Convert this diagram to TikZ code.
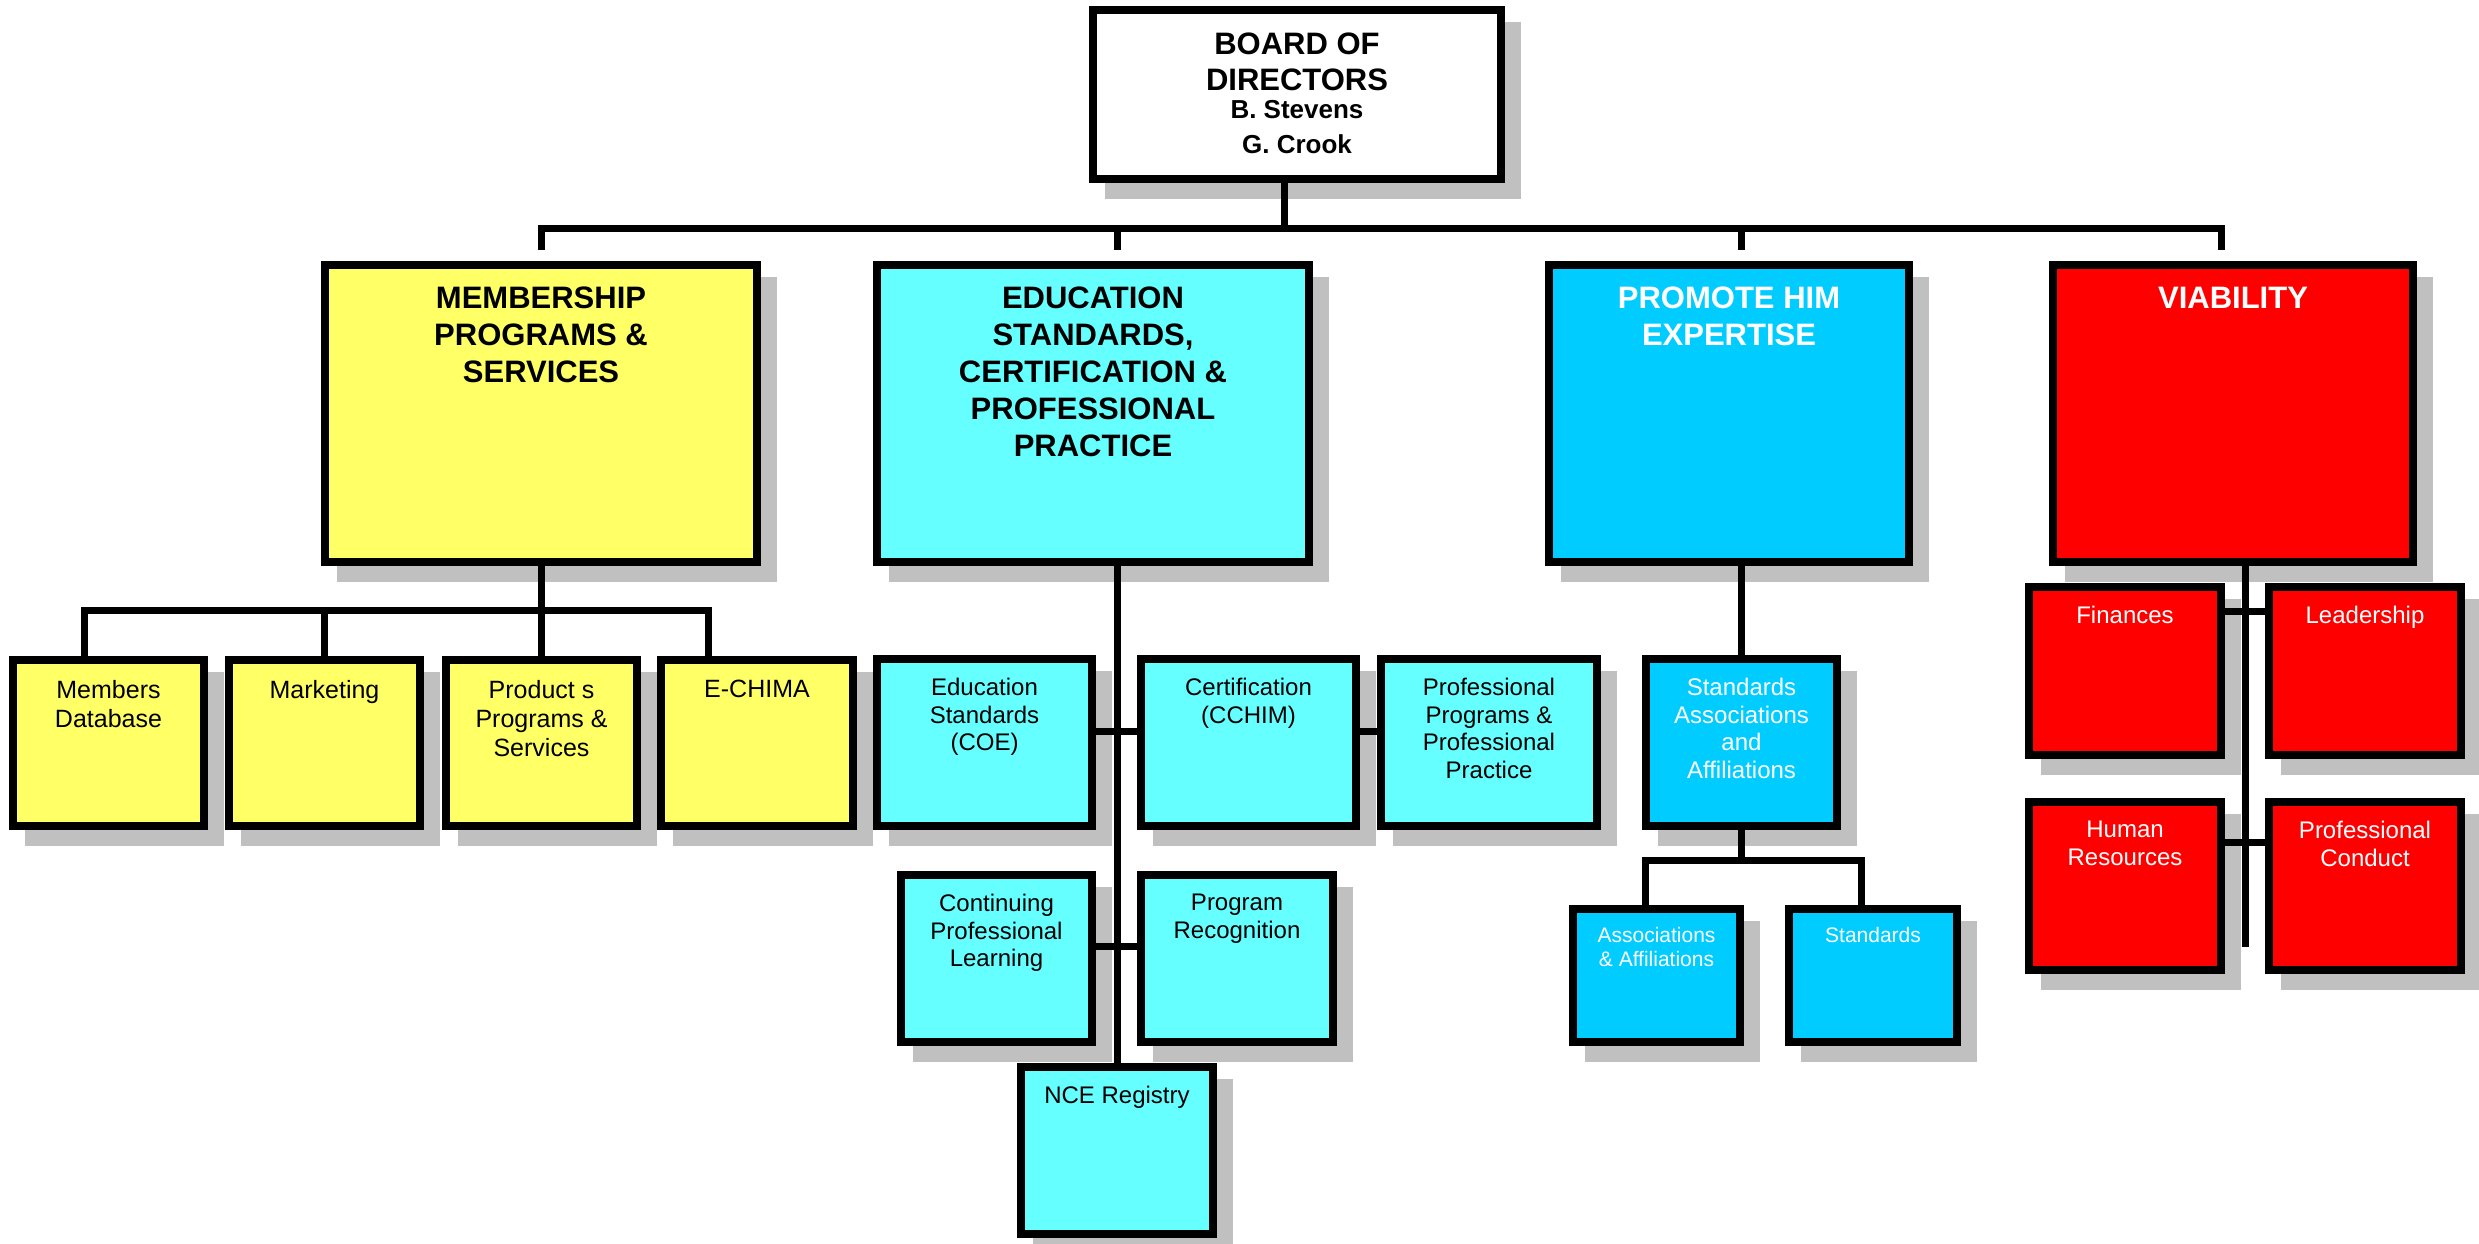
\documentclass[tikz,border=0pt]{standalone}
\usepackage{fontspec}
\setmainfont{Liberation Sans}

\definecolor{ylw}{HTML}{FFFF66}
\definecolor{cyn}{HTML}{66FFFF}
\definecolor{sky}{HTML}{00CCFF}
\definecolor{rd}{HTML}{FF0000}
\definecolor{shadowc}{HTML}{C0C0C0}

\pgfdeclarelayer{shadows}
\pgfdeclarelayer{links}
\pgfsetlayers{shadows,links,main}

% #1 box style, #2 text style, #3 name, #4 x1, #5 y1, #6 x2, #7 y2 (outer edges), #8 text
\newcommand\orgbox[8]{%
  \node[#1, minimum width={#6-#4-8}, minimum height={#7-#5-8}] (#3) at ({(#4+#6)/2},{(#5+#7)/2}) {};
  \node[#2, anchor=north] (#3-t) at ({(#4+#6)/2},{#5}) {#8};
}

\tikzset{
  box/.style={draw=black, line width=8pt, rectangle, inner sep=0pt},
  wbox/.style={box, fill=white},
  ybox/.style={box, fill=ylw},
  cbox/.style={box, fill=cyn},
  bbox/.style={box, fill=sky},
  rbox/.style={box, fill=rd},
  boardtext/.style={inner sep=0pt, align=center, font=\bfseries\fontsize{31}{36}\selectfont, yshift=-27pt},
  boardnames/.style={inner sep=0pt, align=center, font=\bfseries\fontsize{26}{35}\selectfont},
  hdtext/.style={inner sep=0pt, align=center, font=\bfseries\fontsize{31}{37}\selectfont, yshift=-26pt},
  hdwhite/.style={hdtext, text=white},
  yeltext/.style={inner sep=0pt, align=center, font=\fontsize{25}{29}\selectfont, yshift=-24pt},
  subtext/.style={inner sep=0pt, align=center, font=\fontsize{24}{27.5}\selectfont, yshift=-23pt},
  subwhite/.style={subtext, text=white},
  smallwhite/.style={inner sep=0pt, align=center, font=\fontsize{21}{24}\selectfont, text=white, yshift=-22pt},
  conn/.style={draw=black, line width=7pt},
}

\begin{document}
\begin{tikzpicture}[x=1pt, y=-1pt]
\useasboundingbox (0,0) rectangle (2479,1244);

% ---- board ----
\orgbox{wbox}{boardtext}{board}{1089}{6}{1505}{183}{BOARD OF\\DIRECTORS}
\node[boardnames, anchor=north] (board-n) at (1297,100) {B. Stevens\\G. Crook};

% ---- portfolios ----
\orgbox{ybox}{hdtext}{mem}{321}{261}{761}{566}{MEMBERSHIP\\PROGRAMS \&\\SERVICES}
\orgbox{cbox}{hdtext}{edu}{873}{261}{1313}{566}{EDUCATION\\STANDARDS,\\CERTIFICATION \&\\PROFESSIONAL\\PRACTICE}
\orgbox{bbox}{hdwhite}{pro}{1545}{261}{1913}{566}{PROMOTE HIM\\EXPERTISE}
\orgbox{rbox}{hdwhite}{via}{2049}{261}{2417}{566}{VIABILITY}

% ---- membership units ----
\orgbox{ybox}{yeltext}{md}{9}{656}{208}{830}{Members\\Database}
\orgbox{ybox}{yeltext}{mk}{225}{656}{424}{830}{Marketing}
\orgbox{ybox}{yeltext}{ps}{442}{656}{641}{830}{Product s\\Programs \&\\Services}
\orgbox{ybox}{yeltext}{ec}{657}{656}{857}{830}{E-CHIMA}

% ---- education units ----
\orgbox{cbox}{subtext}{es}{873}{655}{1096}{830}{Education\\Standards\\(COE)}
\orgbox{cbox}{subtext}{ce}{1137}{655}{1360}{830}{Certification\\(CCHIM)}
\orgbox{cbox}{subtext}{pp}{1377}{655}{1601}{830}{Professional\\Programs \&\\Professional\\Practice}
\orgbox{cbox}{subtext}{cp}{897}{871}{1096}{1046}{Continuing\\Professional\\Learning}
\orgbox{cbox}{subtext}{pr}{1137}{871}{1337}{1046}{Program\\Recognition}
\orgbox{cbox}{subtext}{nce}{1017}{1063}{1217}{1238}{NCE Registry}

% ---- expertise units ----
\orgbox{bbox}{subwhite}{sa}{1642}{655}{1841}{830}{Standards\\Associations\\and\\Affiliations}
\orgbox{bbox}{smallwhite}{aa}{1569}{905}{1744}{1046}{Associations\\\& Affiliations}
\orgbox{bbox}{smallwhite}{st}{1785}{905}{1961}{1046}{Standards}

% ---- viability units ----
\orgbox{rbox}{subwhite}{fin}{2025}{583}{2225}{759}{Finances}
\orgbox{rbox}{subwhite}{lead}{2265}{583}{2465}{759}{Leadership}
\orgbox{rbox}{subwhite}{hr}{2025}{798}{2225}{974}{Human\\Resources}
\orgbox{rbox}{subwhite}{pc}{2265}{798}{2465}{974}{Professional\\Conduct}

% ---- drop shadows ----
\begin{pgfonlayer}{shadows}
  \foreach \n in {board,mem,edu,pro,via,md,mk,ps,ec,es,ce,pp,cp,pr,nce,sa,aa,st,fin,lead,hr,pc}
    \fill[shadowc] ([shift={(16,16)}]\n.north west) rectangle ([shift={(16,16)}]\n.south east);
\end{pgfonlayer}

% ---- connectors ----
\coordinate (tbB) at (1284,228);
\coordinate (tbL) at (541,228);
\coordinate (tbE) at (1117,228);
\coordinate (tbP) at (1741,228);
\coordinate (tbR) at (2221,228);
\coordinate (mbL) at (84,610);
\coordinate (mbR) at (708,610);
\coordinate (r1) at (0,731);
\coordinate (r2) at (0,946);
\coordinate (pbL) at (1645,860);
\coordinate (pbR) at (1861,860);
\coordinate (v1) at (0,611);
\coordinate (v2) at (0,842);
\coordinate (vEnd) at (2245,947);

\begin{pgfonlayer}{links}
  % board to portfolios
  \draw[conn] (tbB |- board.south) -- (tbB);
  \draw[conn, shorten <=11pt, shorten >=11pt] (tbL |- mem.north) -- (tbL) -- (tbR) -- (tbR |- via.north);
  \draw[conn, shorten >=11pt] (tbE) -- (tbE |- edu.north);
  \draw[conn, shorten >=11pt] (tbP) -- (tbP |- pro.north);
  % membership
  \draw[conn] (mem.south) -- (mem.south |- mbL);
  \draw[conn] (mbL |- md.north) -- (mbL) -- (mbR) -- (mbR |- ec.north);
  \draw[conn] (mk.north) -- (mk.north |- mbL);
  \draw[conn] (ps.north) -- (ps.north |- mbL);
  % education
  \draw[conn] (nce.north |- edu.south) -- (nce.north);
  \draw[conn] (es.east |- r1) -- (ce.west |- r1);
  \draw[conn] (ce.east |- r1) -- (pp.west |- r1);
  \draw[conn] (cp.east |- r2) -- (pr.west |- r2);
  % expertise
  \draw[conn] (sa.north |- pro.south) -- (sa.north);
  \draw[conn] (sa.south) -- (sa.south |- pbL);
  \draw[conn] (pbL |- aa.north) -- (pbL) -- (pbR) -- (pbR |- st.north);
  % viability
  \draw[conn] (vEnd |- via.south) -- (vEnd);
  \draw[conn] (fin.east |- v1) -- (lead.west |- v1);
  \draw[conn] (hr.east |- v2) -- (pc.west |- v2);
\end{pgfonlayer}
\end{tikzpicture}
\end{document}
